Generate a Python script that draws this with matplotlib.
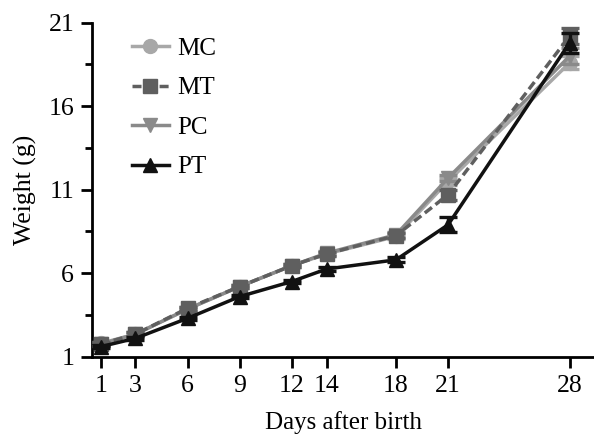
import matplotlib
matplotlib.use("Agg")
import matplotlib.pyplot as plt
from matplotlib.lines import Line2D

plt.rcParams['font.family'] = ['Liberation Serif', 'DejaVu Serif']

days = [1, 3, 6, 9, 12, 14, 18, 21, 28]
MC = [1.8, 2.35, 3.85, 5.2, 6.45, 7.15, 8.2, 11.5, 18.6]
MT = [1.75, 2.35, 3.9, 5.2, 6.45, 7.15, 8.25, 10.7, 20.2]
PC = [1.75, 2.35, 3.85, 5.2, 6.45, 7.2, 8.3, 11.7, 19.0]
PT = [1.6, 2.1, 3.3, 4.6, 5.5, 6.25, 6.8, 8.9, 19.8]
MC_err = [0.1, 0.1, 0.1, 0.1, 0.1, 0.1, 0.15, 0.2, 0.4]
MT_err = [0.1, 0.1, 0.1, 0.1, 0.1, 0.1, 0.15, 0.3, 0.5]
PC_err = [0.1, 0.1, 0.1, 0.1, 0.1, 0.1, 0.15, 0.2, 0.5]
PT_err = [0.1, 0.1, 0.1, 0.1, 0.1, 0.1, 0.15, 0.45, 0.6]
labels = ['MC', 'MT', 'PC', 'PT']
yticks = [1, 6, 11, 16, 21]

fig = plt.figure(figsize=(5.94, 4.36), dpi=100)
ax = fig.add_axes([0.1552, 0.1819, 0.8448, 0.7661])

lw = 2.5
ms = 10
common = dict(linewidth=lw, markersize=ms, capsize=6.5, capthick=2.4, elinewidth=2.4)
styles = {
    'MC': dict(color='#a8a8a8', marker='o', linestyle='-'),
    'MT': dict(color='#5f5f5f', marker='s', linestyle=(0, (2.6, 1.3))),
    'PC': dict(color='#8a8a8a', marker='v', linestyle='-'),
    'PT': dict(color='#111111', marker='^', linestyle='-'),
}
ax.errorbar(days, MC, yerr=MC_err, zorder=2, **styles['MC'], **common)
ax.errorbar(days, PC, yerr=PC_err, zorder=3, **styles['PC'], **common)
ax.errorbar(days, MT, yerr=MT_err, zorder=4, **styles['MT'], **common)
ax.errorbar(days, PT, yerr=PT_err, zorder=5, **styles['PT'], **common)

ax.set_xlim(0.51, 29.4)
ax.set_ylim(1, 21)
ax.set_xticks(days)
ax.set_yticks(yticks)
ax.set_yticks([3.5, 8.5, 13.5, 18.5], minor=True)
for s in ['top', 'right']:
    ax.spines[s].set_visible(False)
for s in ['left', 'bottom']:
    ax.spines[s].set_linewidth(2.0)
ax.tick_params(axis='both', which='major', direction='out', length=8, width=2.0, labelsize=18.5, pad=5)
ax.tick_params(axis='y', which='minor', direction='out', length=5, width=2.0)
ax.set_xlabel('Days after birth', fontsize=18, labelpad=10)
ax.set_ylabel('Weight (g)', fontsize=18.5, labelpad=8)

handles = [Line2D([], [], linewidth=lw, markersize=ms, **styles[k]) for k in labels]
leg = ax.legend(handles, labels, frameon=False, fontsize=18,
                loc='upper left', bbox_to_anchor=(0.2217, 0.914), bbox_transform=fig.transFigure,
                borderpad=0, borderaxespad=0, labelspacing=0.68, handlelength=1.48, handletextpad=0.36)

fig.savefig('out.png', dpi=100)
